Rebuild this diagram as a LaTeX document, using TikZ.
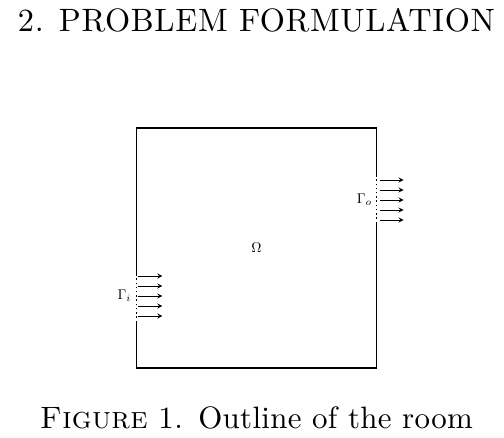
\documentclass[tikz,border=0pt]{standalone}
\usepackage{amsmath,amsfonts,amssymb}
\usepackage{fontspec}
\newfontfamily\headrm[LetterSpace=2]{lmroman10-regular.otf}
\newfontfamily\caprm[LetterSpace=1,SmallCapsFont=lmromancaps10-regular.otf,
  SmallCapsFeatures={LetterSpace=1}]{lmroman10-regular.otf}
\usepackage{tikz}
\usetikzlibrary{positioning}
\tikzset{wall/.style={draw,line width=1pt},
         opening/.style={draw,line width=1pt,dotted},
         flow/.style={->,>=stealth,line width=0.6pt},
         heading/.style={anchor=base,font=\headrm\fontsize{23}{28}\selectfont},
         caption/.style={anchor=base,font=\caprm\fontsize{22}{27}\selectfont}}

\begin{document}
\begin{tikzpicture}
    \useasboundingbox (-3.41,-1.75) rectangle (9.19,9.2);

    \node[heading] (T) at (3,8.4) {2. PROBLEM FORMULATION};
    \node[caption] (F) at (3,-1.525) {\textsc{Figure} 1.\enspace Outline of the room};

    \coordinate (SW) at (0,0); \coordinate (SE) at (6,0); \coordinate (NE)
    at (6,6); \coordinate (NW) at (0,6);
    \coordinate (I1) at (0,1.15); \coordinate (I2) at (0,2.35);
    \coordinate (O1) at (6,3.625); \coordinate (O2) at (6,4.8);

    \draw[wall] (I1) -- (SW) -- (SE) -- (O1); \draw[wall] (O2) -- (NE) --
    (NW) -- (I2);
    \draw[opening] (I1) -- (I2); \draw[opening] (O1) -- (O2);

    \node[] (Om) at (3,3) {$\Omega$};
    \node[] (Gi) at (-0.3,1.8) {$\Gamma_i$};
    \node[] (Go) at (5.7,4.2) {$\Gamma_o$};

    \draw[flow] (0.05,2.3) -- (0.65,2.3); \draw[flow] (0.05,2.05) --
    (0.65,2.05); \draw[flow] (0.05,1.8) -- (0.65,1.8); \draw[flow]
    (0.05,1.55) -- (0.65,1.55); \draw[flow] (0.05,1.3) -- (0.65,1.3);

    \draw[flow] (6.08,4.7) -- (6.68,4.7); \draw[flow] (6.08,4.45) --
    (6.68,4.45); \draw[flow] (6.08,4.2) -- (6.68,4.2); \draw[flow]
    (6.08,3.95) -- (6.68,3.95); \draw[flow] (6.08,3.7) -- (6.68,3.7);

\end{tikzpicture}
\end{document}
